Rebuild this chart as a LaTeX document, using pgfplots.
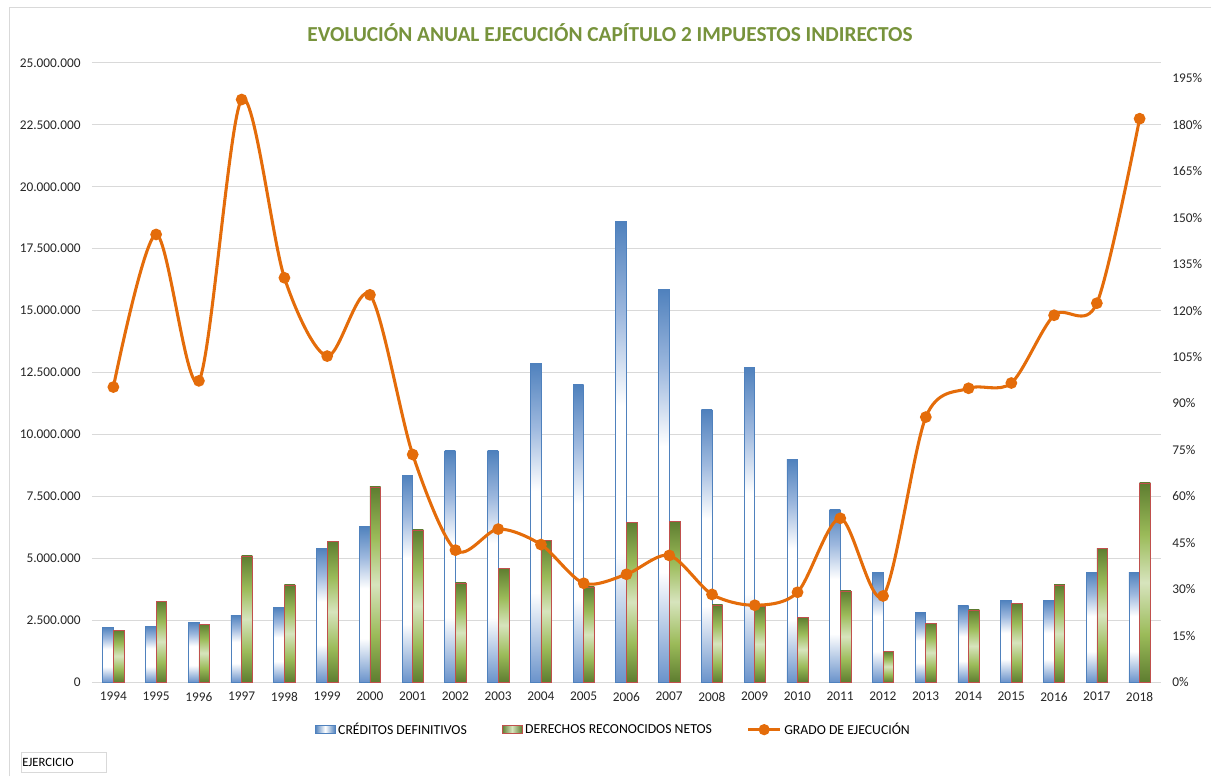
\documentclass[border=0pt]{standalone}
\usepackage{pgfplots}
\pgfplotsset{compat=1.18}
\usepackage{fontspec}
\setmainfont{Carlito}
\definecolor{bT}{HTML}{4F81BD}
\definecolor{bB}{HTML}{6A93CB}
\definecolor{bM}{HTML}{9DB8DE}
\definecolor{gD}{HTML}{5E7D30}
\definecolor{gM}{HTML}{9BBB59}
\definecolor{gL}{HTML}{D7E4BD}
\definecolor{rB}{HTML}{C0504D}
\definecolor{orL}{HTML}{E46C0A}
\definecolor{grd}{HTML}{D9D9D9}
\definecolor{ttl}{HTML}{77933C}
\pgfdeclareverticalshading{bluebar}{100bp}{color(0bp)=(bB); color(25bp)=(bB); color(39bp)=(white); color(55bp)=(white); color(65bp)=(bM); color(75bp)=(bT); color(100bp)=(bT)}
\pgfdeclareverticalshading{greenbar}{100bp}{color(0bp)=(gD); color(25bp)=(gD); color(37bp)=(gM); color(50bp)=(gL); color(62bp)=(gM); color(75bp)=(gD); color(100bp)=(gD)}
\pgfdeclarehorizontalshading{bluelegend}{100bp}{color(0bp)=(bT); color(25bp)=(bT); color(50bp)=(white); color(75bp)=(bT); color(100bp)=(bT)}
\pgfdeclarehorizontalshading{greenlegend}{100bp}{color(0bp)=(gD); color(25bp)=(gD); color(50bp)=(gL); color(75bp)=(gD); color(100bp)=(gD)}

\pgfplotstableread{
year cred dere grado
1994 2220000 2100000 95.3
1995 2260000 3270000 144.6
1996 2420000 2340000 97.3
1997 2700000 5090000 188.2
1998 3000000 3920000 130.6
1999 5410000 5690000 105.3
2000 6300000 7880000 125.1
2001 8360000 6140000 73.5
2002 9330000 4000000 42.6
2003 9330000 4600000 49.4
2004 12880000 5730000 44.4
2005 12000000 3840000 31.9
2006 18600000 6460000 34.8
2007 15870000 6500000 40.9
2008 10990000 3110000 28.3
2009 12720000 3070000 24.8
2010 9000000 2620000 29.0
2011 6950000 3680000 52.9
2012 4440000 1250000 27.8
2013 2790000 2380000 85.6
2014 3070000 2910000 94.9
2015 3310000 3190000 96.6
2016 3310000 3920000 118.5
2017 4440000 5410000 122.4
2018 4440000 8040000 182.0
}\datatable

\begin{document}
\begin{tikzpicture}
\useasboundingbox (0,0) rectangle (908.25pt,582pt);
% chart frame
\draw[grd, line width=0.75pt] (6.75pt,0) -- (6.75pt,576pt) -- (908.25pt,576pt);
% title
\node[font=\fontsize{16}{18}\selectfont\bfseries, text=ttl] at (457.5pt,557.25pt) {EVOLUCIÓN ANUAL EJECUCIÓN CAPÍTULO 2 IMPUESTOS INDIRECTOS};
% EJERCICIO box
\draw[grd, line width=0.6pt] (15.75pt,3pt) rectangle (79.5pt,18pt);
\node[anchor=west, font=\fontsize{9.5}{11}\selectfont, inner sep=0pt] at (16.5pt,10.5pt) {EJERCICIO};

\begin{axis}[
  at={(69pt,70.5pt)}, anchor=south west,
  width=801.75pt, height=464.25pt, scale only axis,
  xmin=1993.5, xmax=2018.5,
  ymin=0, ymax=25000000,
  ytick={0,2500000,...,25000000},
  xtick={1994,...,2018},
  axis y line*=left, axis x line*=bottom,
  y axis line style={draw=none},
  x axis line style={draw=grd, line width=0.75pt},
  major tick length=0pt,
  ymajorgrids, grid style={draw=grd, line width=0.75pt},
  scaled y ticks=false,
  /pgf/number format/assume math mode=true,
  yticklabel style={/pgf/number format/fixed, /pgf/number format/precision=0, /pgf/number format/1000 sep={.}, xshift=-5pt},
  xticklabel style={/pgf/number format/1000 sep={}, yshift=-4pt},
  tick label style={font=\fontsize{10}{12}\selectfont, text=black!85},
  bar width=0.25,
  clip=false,
]
\pgfplotsinvokeforeach{1994,...,2018}{
  \addplot[ybar, bar shift=-0.125, shading=bluebar, draw=bT, line width=0.5pt, restrict x to domain=#1:#1] table[x=year,y=cred]{\datatable};
  \addplot[ybar, bar shift=0.125, shading=greenbar, draw=rB, line width=0.5pt, restrict x to domain=#1:#1] table[x=year,y=dere]{\datatable};
}
\end{axis}

\begin{axis}[
  at={(69pt,70.5pt)}, anchor=south west,
  width=801.75pt, height=464.25pt, scale only axis,
  xmin=1993.5, xmax=2018.5,
  ymin=0, ymax=200,
  ytick={0,15,...,195},
  axis y line*=right, axis x line=none,
  y axis line style={draw=none},
  major tick length=0pt,
  /pgf/number format/assume math mode=true,
  yticklabel={\pgfmathprintnumber{\tick}\%},
  tick label style={font=\fontsize{10}{12}\selectfont, text=black!85},
  yticklabel style={xshift=5pt},
  clip=false,
  legend style={at={(0.488,-0.077)}, anchor=center, draw=none, fill=none,
    legend columns=3, font=\fontsize{10.3}{12}\selectfont,
    /tikz/every even column/.append style={column sep=24pt}},
  legend image code/.code={\draw[#1] (0pt,-3pt) rectangle (15pt,3pt);},
]
\addlegendimage{shading=bluelegend, draw=bT, line width=0.5pt}
\addlegendentry{CRÉDITOS DEFINITIVOS}
\addlegendimage{shading=greenlegend, draw=rB, line width=0.8pt}
\addlegendentry{DERECHOS RECONOCIDOS NETOS}
\addplot[color=orL, line width=2.3pt, smooth, tension=0.5, mark=*, mark size=3.2pt, mark options={fill=orL, draw=orL},
  legend image code/.code={\draw[orL, line width=2.2pt] (0pt,0pt) -- (24pt,0pt); \fill[orL] (12pt,0pt) circle (3pt);}]
  table[x=year,y=grado]{\datatable};
\addlegendentry{GRADO DE EJECUCIÓN}
\end{axis}
\end{tikzpicture}
\end{document}
